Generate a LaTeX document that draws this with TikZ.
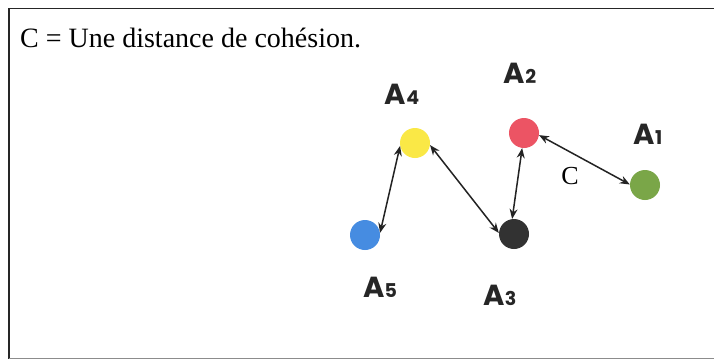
\documentclass[tikz,border=0pt]{standalone}
\usepackage{fontspec}
\setmainfont{Liberation Serif}
\newfontfamily\labfont{Poppins}
\usetikzlibrary{arrows.meta}
\definecolor{cyel}{RGB}{250,232,70}
\definecolor{cred}{RGB}{236,84,100}
\definecolor{cgreen}{RGB}{122,166,72}
\definecolor{cblue}{RGB}{70,140,225}
\definecolor{cblack}{RGB}{50,50,50}
\definecolor{lnk}{RGB}{35,35,35}
\tikzset{
  agent/.style={circle, minimum size=30pt, inner sep=0pt, fill=#1},
  alabel/.style={anchor=base, inner sep=0pt, font=\labfont\bfseries\fontsize{29}{29}\selectfont, text=black!85},
  link/.style={draw=lnk, line width=1.5pt, {Stealth[length=10pt,width=8pt]}-{Stealth[length=10pt,width=8pt]}},
}
\newcommand{\sub}[1]{{\fontsize{19}{19}\selectfont #1}}
\begin{document}
\begin{tikzpicture}[x=1pt,y=-1pt]
\useasboundingbox (0,0) rectangle (714,360);
\fill[white] (0,0) rectangle (714,360);
\draw[line width=1.8pt, black!85] (720,8.5) -- (9,8.5) -- (9,358.5);
\draw[line width=1pt, black!45] (9,358.5) -- (720,358.5);
\node[anchor=base west, inner sep=0pt, font=\fontsize{28}{28}\selectfont] (title) at (20,47) {C = Une distance de cohésion.};
\node[agent=cgreen] (A1) at (645,185) {};
\node[agent=cred] (A2) at (524,133) {};
\node[agent=cblack] (A3) at (514,234) {};
\node[agent=cyel] (A4) at (415,143) {};
\node[agent=cblue] (A5) at (365,235) {};
\node[alabel] (L1) at (648,144) {A\sub{1}};
\node[alabel] (L2) at (520,83) {A\sub{2}};
\node[alabel] (L3) at (500,305) {A\sub{3}};
\node[alabel] (L4) at (402,104) {A\sub{4}};
\node[alabel] (L5) at (380,297) {A\sub{5}};
\node[anchor=base, inner sep=0pt, font=\fontsize{26}{26}\selectfont] (C) at (570,184) {C};
\draw[link] (A5.8) -- (A4.191);
\draw[link] (A4.352) -- (A3.176);
\draw[link] (A2.263) -- (A3.97);
\draw[link] (A2.352) -- (A1.178);
\end{tikzpicture}
\end{document}
